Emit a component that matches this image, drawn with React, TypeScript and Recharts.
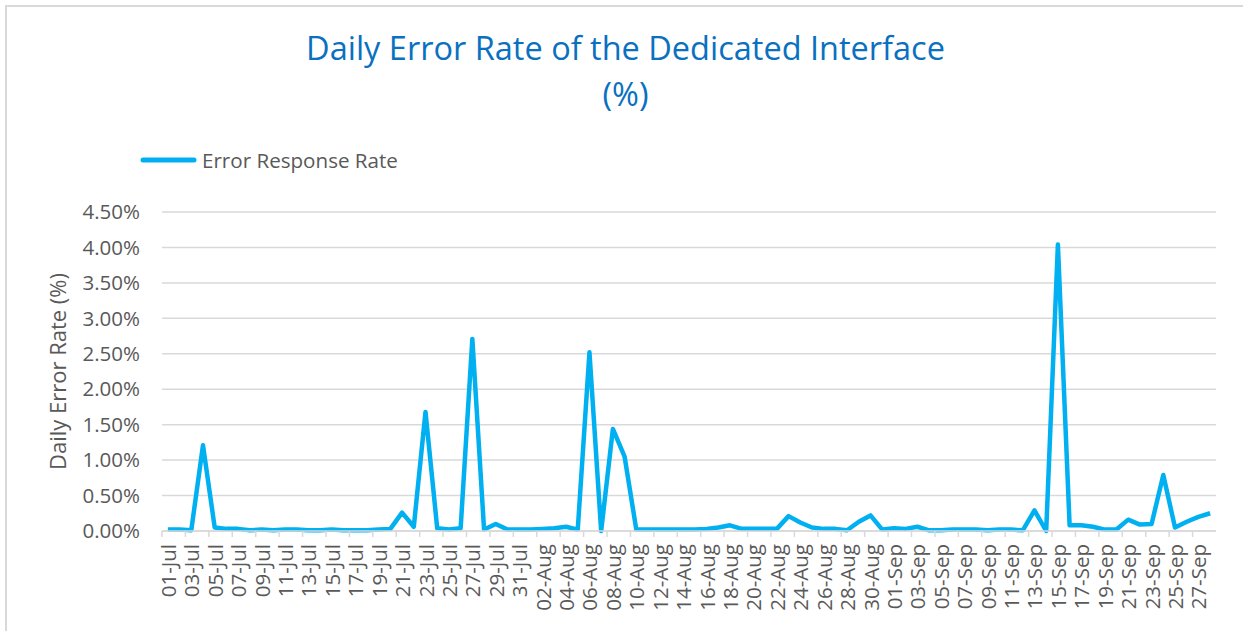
import React from 'react';
import { LineChart, Line, XAxis, YAxis, CartesianGrid } from 'recharts';

const dates = [
  '01-Jul', '02-Jul', '03-Jul', '04-Jul', '05-Jul', '06-Jul', '07-Jul', '08-Jul', '09-Jul', '10-Jul',
  '11-Jul', '12-Jul', '13-Jul', '14-Jul', '15-Jul', '16-Jul', '17-Jul', '18-Jul', '19-Jul', '20-Jul',
  '21-Jul', '22-Jul', '23-Jul', '24-Jul', '25-Jul', '26-Jul', '27-Jul', '28-Jul', '29-Jul', '30-Jul',
  '31-Jul', '01-Aug', '02-Aug', '03-Aug', '04-Aug', '05-Aug', '06-Aug', '07-Aug', '08-Aug', '09-Aug',
  '10-Aug', '11-Aug', '12-Aug', '13-Aug', '14-Aug', '15-Aug', '16-Aug', '17-Aug', '18-Aug', '19-Aug',
  '20-Aug', '21-Aug', '22-Aug', '23-Aug', '24-Aug', '25-Aug', '26-Aug', '27-Aug', '28-Aug', '29-Aug',
  '30-Aug', '31-Aug', '01-Sep', '02-Sep', '03-Sep', '04-Sep', '05-Sep', '06-Sep', '07-Sep', '08-Sep',
  '09-Sep', '10-Sep', '11-Sep', '12-Sep', '13-Sep', '14-Sep', '15-Sep', '16-Sep', '17-Sep', '18-Sep',
  '19-Sep', '20-Sep', '21-Sep', '22-Sep', '23-Sep', '24-Sep', '25-Sep', '26-Sep', '27-Sep', '28-Sep',
];

// daily error response rate, in %
const errorRate = [
  0.02, 0.02, 0.01, 1.21, 0.05, 0.03, 0.03, 0.01, 0.02, 0.01,
  0.02, 0.02, 0.01, 0.01, 0.02, 0.01, 0.01, 0.01, 0.02, 0.03,
  0.26, 0.06, 1.68, 0.04, 0.02, 0.04, 2.71, 0.02, 0.1, 0.02,
  0.02, 0.02, 0.03, 0.04, 0.06, 0.02, 2.52, 0.0, 1.44, 1.05,
  0.02, 0.02, 0.02, 0.02, 0.02, 0.02, 0.03, 0.05, 0.08, 0.03,
  0.03, 0.03, 0.03, 0.21, 0.12, 0.05, 0.03, 0.03, 0.01, 0.13,
  0.22, 0.02, 0.04, 0.03, 0.06, 0.01, 0.01, 0.02, 0.02, 0.02,
  0.01, 0.02, 0.02, 0.01, 0.29, 0.0, 4.04, 0.08, 0.08, 0.06,
  0.02, 0.02, 0.16, 0.09, 0.1, 0.79, 0.05, 0.13, 0.2, 0.25,
];

const yTicks = [0, 0.5, 1, 1.5, 2, 2.5, 3, 3.5, 4, 4.5];

const data = dates.map((d, i) => ({ date: d, rate: errorRate[i] }));

const FONT = '"Open Sans", sans-serif';
const TEXT = '#595959';
const GRID = '#d9d9d9';
const LINE = '#00B0F0';
const TITLE = '#0A70C0';
const PLOT_LEFT = 162;
const PLOT_RIGHT = 1216;
const STEP = (PLOT_RIGHT - PLOT_LEFT) / dates.length;

const DateTick = (props: any) => {
  const { x, y, payload } = props;
  const bx = x - STEP / 2;
  return (
    <g>
      <line x1={bx} x2={bx} y1={y - 13} y2={y - 7} stroke={GRID} strokeWidth={1.5} />
      <text
        x={x}
        y={y}
        transform={`rotate(-90, ${x}, ${y})`}
        textAnchor="end"
        dominantBaseline="central"
        fontSize={20.5}
        fontFamily={FONT}
        fill={TEXT}
      >
        {payload.value}
      </text>
    </g>
  );
};

export default function App() {
  return (
    <div style={{ position: 'absolute', left: 0, top: 0, width: 1243, height: 631, background: '#fff', fontFamily: FONT, overflow: 'hidden' }}>
      <div style={{ position: 'absolute', left: 5, top: 5, width: 1238, height: 626, borderTop: `2px solid ${GRID}`, borderLeft: `2px solid ${GRID}`, boxSizing: 'border-box' }} />
      <div style={{ position: 'absolute', left: 0, width: 1251, top: 28, textAlign: 'center', color: TITLE, fontSize: 32.5, lineHeight: '40px' }}>
        Daily Error Rate of the Dedicated Interface
      </div>
      <div style={{ position: 'absolute', left: 0, width: 1251, top: 74, textAlign: 'center', color: TITLE, fontSize: 32.5, lineHeight: '40px' }}>
        (%)
      </div>
      <svg style={{ position: 'absolute', left: 0, top: 0 }} width={1243} height={200}>
        <line x1={143} x2={194} y1={160} y2={160} stroke={LINE} strokeWidth={5} strokeLinecap="round" />
        <text x={202} y={160} dominantBaseline="central" fontSize={20.6} fontFamily={FONT} fill={TEXT}>
          Error Response Rate
        </text>
      </svg>
      <div style={{ position: 'absolute', left: 0, top: 0 }}>
        <LineChart width={1243} height={631} data={data} margin={{ top: 212, right: 1243 - PLOT_RIGHT, bottom: 0, left: 0 }}>
          <CartesianGrid vertical={false} stroke={GRID} strokeWidth={1.5} />
          <XAxis
            dataKey="date"
            height={100}
            interval={1}
            padding={{ left: STEP / 2, right: STEP / 2 }}
            axisLine={{ stroke: GRID, strokeWidth: 1.5 }}
            tickLine={false}
            tickSize={5}
            tickMargin={8}
            tick={<DateTick />}
          />
          <YAxis
            width={PLOT_LEFT}
            domain={[0, 4.5]}
            ticks={yTicks}
            tickFormatter={(v: number) => `${v.toFixed(2)}%`}
            axisLine={false}
            tickLine={false}
            tickSize={0}
            tickMargin={22}
            tick={{ fontSize: 20.5, fill: TEXT, fontFamily: FONT }}
            label={{
              value: 'Daily Error Rate (%)',
              angle: -90,
              position: 'insideLeft',
              offset: 58,
              style: { textAnchor: 'middle', fontSize: 22, fill: TEXT, fontFamily: FONT },
            }}
          />
          <Line
            type="linear"
            dataKey="rate"
            stroke={LINE}
            strokeWidth={4.5}
            strokeLinejoin="round"
            dot={false}
            activeDot={false}
            isAnimationActive={false}
          />
        </LineChart>
      </div>
    </div>
  );
}
